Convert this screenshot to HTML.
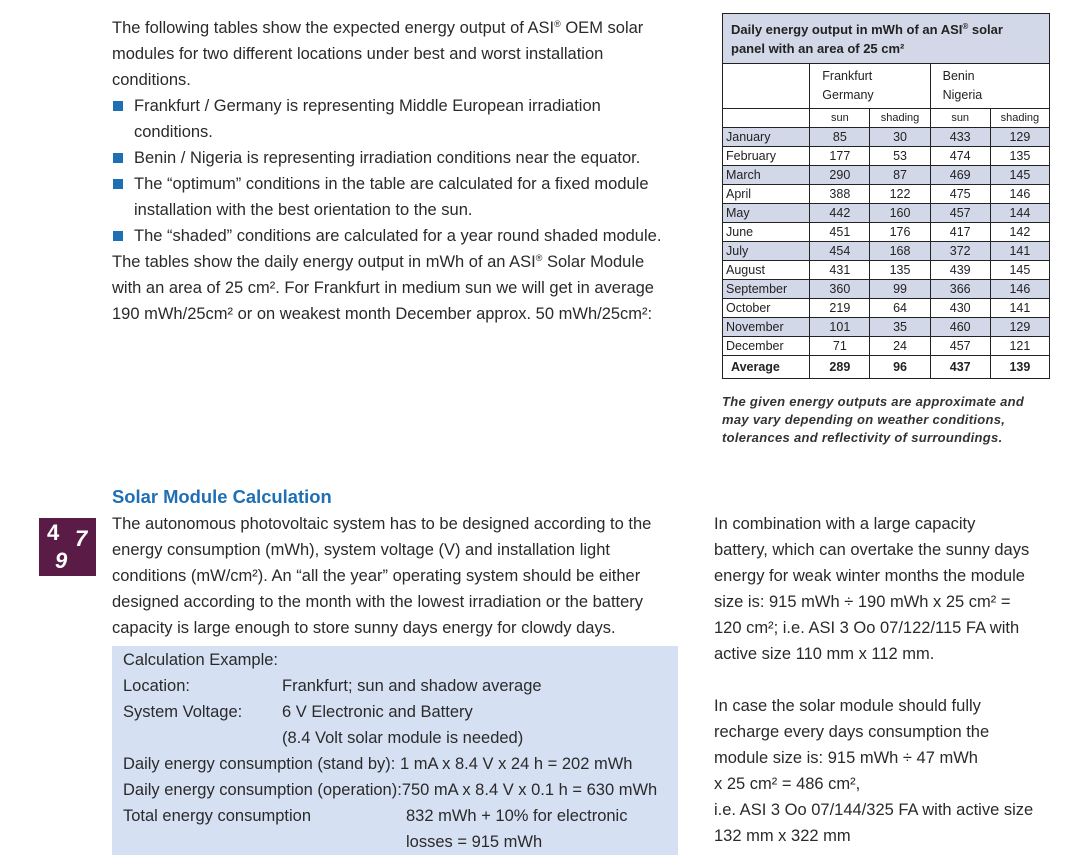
<!DOCTYPE html>
<html><head><meta charset="utf-8"><style>
*{margin:0;padding:0}
body{width:1086px;height:866px;background:#fff;position:relative;font-family:"Liberation Sans",sans-serif;color:#222;overflow:hidden}
.l{position:absolute;font-size:16.5px;white-space:nowrap;line-height:20px;color:#2a2a2a}
sup{line-height:0;vertical-align:0;position:relative;top:-6px;font-size:9px}
.b{position:absolute;width:10px;height:10px;background:#1f6fb5}
table{position:absolute;left:722px;top:13px;border-collapse:collapse;font-size:12.5px;color:#222}
td{border:1px solid #222;padding:0 3px;height:18px;line-height:18px}
td.n{text-align:center}
tr.s td{background:#d3d8e8}
.bx{position:absolute;left:112px;top:646px;width:566px;height:209px;background:#d6e0f3}
</style></head><body>
<div class="l" style="left:112px;top:18px">The following tables show the expected energy output of ASI<sup>®</sup> OEM solar</div>
<div class="l" style="left:112px;top:44px">modules for two different locations under best and worst installation</div>
<div class="l" style="left:112px;top:70px">conditions.</div>
<div class="b" style="left:113px;top:101px"></div>
<div class="l" style="left:134px;top:96px">Frankfurt / Germany is representing Middle European irradiation</div>
<div class="l" style="left:134px;top:122px">conditions.</div>
<div class="b" style="left:113px;top:153px"></div>
<div class="l" style="left:134px;top:148px">Benin / Nigeria is representing irradiation conditions near the equator.</div>
<div class="b" style="left:113px;top:179px"></div>
<div class="l" style="left:134px;top:174px">The “optimum” conditions in the table are calculated for a fixed module</div>
<div class="l" style="left:134px;top:200px">installation with the best orientation to the sun.</div>
<div class="b" style="left:113px;top:231px"></div>
<div class="l" style="left:134px;top:226px">The “shaded” conditions are calculated for a year round shaded module.</div>
<div class="l" style="left:112px;top:252px">The tables show the daily energy output in mWh of an ASI<sup>®</sup> Solar Module</div>
<div class="l" style="left:112px;top:278px">with an area of 25 cm². For Frankfurt in medium sun we will get in average</div>
<div class="l" style="left:112px;top:304px">190 mWh/25cm² or on weakest month December approx. 50 mWh/25cm²:</div>

<table>
<tr><td colspan="5" style="background:#d3d8e8;height:49px;line-height:19px;font-weight:bold;font-size:13px;padding:0 8px;width:310px">Daily energy output in mWh of an ASI<sup style="font-size:8px;top:-5px">®</sup> solar<br>panel with an area of 25 cm²</td></tr>
<tr><td style="width:80px;height:44px"></td><td colspan="2" style="line-height:19px;padding-left:12px">Frankfurt<br>Germany</td><td colspan="2" style="line-height:19px;padding-left:12px">Benin<br>Nigeria</td></tr>
<tr><td></td><td class="n" style="width:53px;font-size:11px">sun</td><td class="n" style="width:53px;font-size:11px">shading</td><td class="n" style="width:53px;font-size:11px">sun</td><td class="n" style="width:52px;font-size:11px">shading</td></tr>
<tr class="s"><td>January</td><td class="n">85</td><td class="n">30</td><td class="n">433</td><td class="n">129</td></tr>
<tr><td>February</td><td class="n">177</td><td class="n">53</td><td class="n">474</td><td class="n">135</td></tr>
<tr class="s"><td>March</td><td class="n">290</td><td class="n">87</td><td class="n">469</td><td class="n">145</td></tr>
<tr><td>April</td><td class="n">388</td><td class="n">122</td><td class="n">475</td><td class="n">146</td></tr>
<tr class="s"><td>May</td><td class="n">442</td><td class="n">160</td><td class="n">457</td><td class="n">144</td></tr>
<tr><td>June</td><td class="n">451</td><td class="n">176</td><td class="n">417</td><td class="n">142</td></tr>
<tr class="s"><td>July</td><td class="n">454</td><td class="n">168</td><td class="n">372</td><td class="n">141</td></tr>
<tr><td>August</td><td class="n">431</td><td class="n">135</td><td class="n">439</td><td class="n">145</td></tr>
<tr class="s"><td>September</td><td class="n">360</td><td class="n">99</td><td class="n">366</td><td class="n">146</td></tr>
<tr><td>October</td><td class="n">219</td><td class="n">64</td><td class="n">430</td><td class="n">141</td></tr>
<tr class="s"><td>November</td><td class="n">101</td><td class="n">35</td><td class="n">460</td><td class="n">129</td></tr>
<tr><td>December</td><td class="n">71</td><td class="n">24</td><td class="n">457</td><td class="n">121</td></tr>
<tr style="font-weight:bold"><td style="height:22px;padding-left:8px">Average</td><td class="n">289</td><td class="n">96</td><td class="n">437</td><td class="n">139</td></tr>
</table>
<div style="position:absolute;left:722px;top:393px;font-size:13px;font-style:italic;font-weight:bold;line-height:18px;color:#333;letter-spacing:0.3px">The given energy outputs are approximate and<br>may vary depending on weather conditions,<br>tolerances and reflectivity of surroundings.</div>

<div class="l" style="left:112px;top:487px;color:#1f6fb5;font-weight:bold;font-size:18.4px">Solar Module Calculation</div>
<div style="position:absolute;left:39px;top:518px;width:57px;height:58px;background:#5a1c47;color:#fff;font-weight:bold;font-size:22px">
<span style="position:absolute;left:8px;top:2px">4</span><span style="position:absolute;left:36px;top:8px;font-style:italic">7</span><span style="position:absolute;left:16px;top:30px;font-style:italic">9</span></div>
<div class="l" style="left:112px;top:514px">The autonomous photovoltaic system has to be designed according to the</div>
<div class="l" style="left:112px;top:540px">energy consumption (mWh), system voltage (V) and installation light</div>
<div class="l" style="left:112px;top:566px">conditions (mW/cm²). An “all the year” operating system should be either</div>
<div class="l" style="left:112px;top:592px">designed according to the month with the lowest irradiation or the battery</div>
<div class="l" style="left:112px;top:618px">capacity is large enough to store sunny days energy for clowdy days.</div>
<div class="bx"></div>
<div class="l" style="left:123px;top:650px">Calculation Example:</div>
<div class="l" style="left:123px;top:676px">Location:</div><div class="l" style="left:282px;top:676px">Frankfurt; sun and shadow average</div>
<div class="l" style="left:123px;top:702px">System Voltage:</div><div class="l" style="left:282px;top:702px">6 V Electronic and Battery</div>
<div class="l" style="left:282px;top:728px">(8.4 Volt solar module is needed)</div>
<div class="l" style="left:123px;top:754px">Daily energy consumption (stand by): 1 mA x 8.4 V x 24 h = 202 mWh</div>
<div class="l" style="left:123px;top:780px">Daily energy consumption (operation):750 mA x 8.4 V x 0.1 h = 630 mWh</div>
<div class="l" style="left:123px;top:806px">Total energy consumption</div><div class="l" style="left:406px;top:806px">832 mWh + 10% for electronic</div>
<div class="l" style="left:406px;top:832px">losses = 915 mWh</div>

<div class="l" style="left:714px;top:514px">In combination with a large capacity</div>
<div class="l" style="left:714px;top:540px">battery, which can overtake the sunny days</div>
<div class="l" style="left:714px;top:566px">energy for weak winter months the module</div>
<div class="l" style="left:714px;top:592px">size is: 915 mWh ÷ 190 mWh x 25 cm² =</div>
<div class="l" style="left:714px;top:618px">120 cm²; i.e. ASI 3 Oo 07/122/115 FA with</div>
<div class="l" style="left:714px;top:644px">active size 110 mm x 112 mm.</div>
<div class="l" style="left:714px;top:696px">In case the solar module should fully</div>
<div class="l" style="left:714px;top:722px">recharge every days consumption the</div>
<div class="l" style="left:714px;top:748px">module size is: 915 mWh ÷ 47 mWh</div>
<div class="l" style="left:714px;top:774px">x 25 cm² = 486 cm²,</div>
<div class="l" style="left:714px;top:800px">i.e. ASI 3 Oo 07/144/325 FA with active size</div>
<div class="l" style="left:714px;top:826px">132 mm x 322 mm</div>
</body></html>
